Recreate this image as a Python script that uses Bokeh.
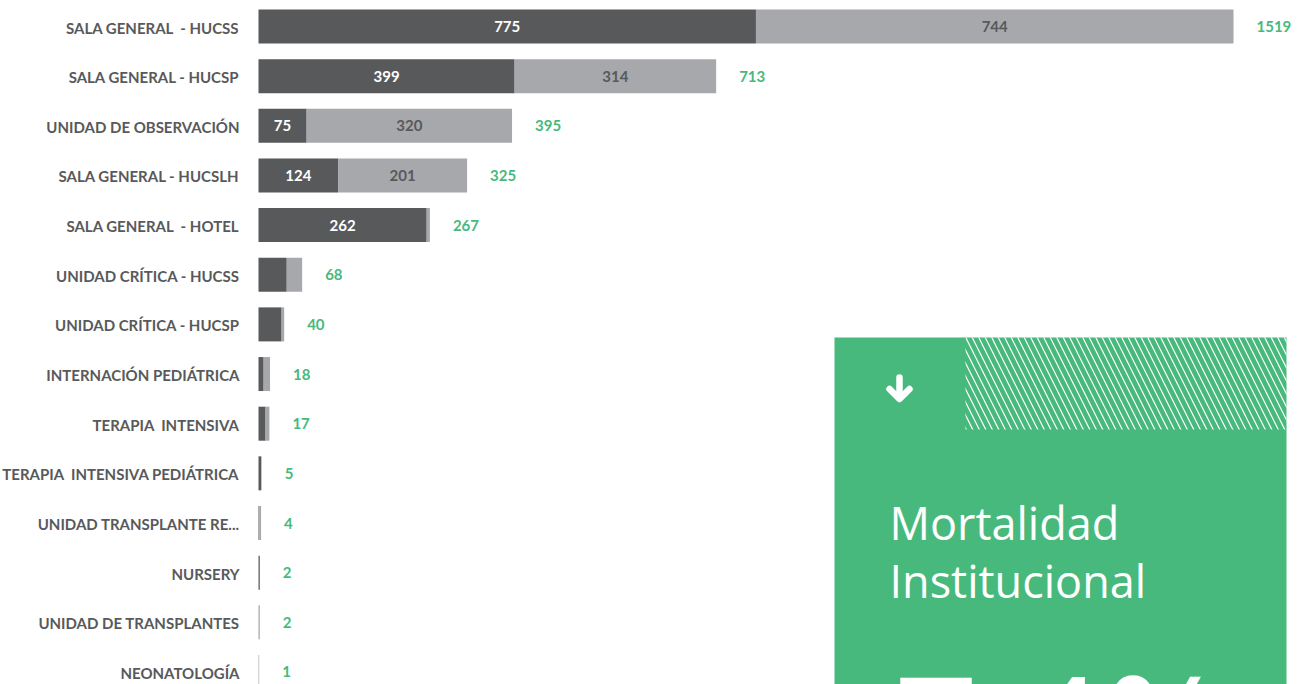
from bokeh.plotting import figure
from bokeh.models import Range1d, ColumnDataSource
from bokeh.core.properties import value
from bokeh.embed import file_html
from bokeh.resources import INLINE

# ---------------- data ----------------
categories = [
    "SALA GENERAL  - HUCSS",
    "SALA GENERAL - HUCSP",
    "UNIDAD DE OBSERVACIÓN",
    "SALA GENERAL - HUCSLH",
    "SALA GENERAL  - HOTEL",
    "UNIDAD CRÍTICA - HUCSS",
    "UNIDAD CRÍTICA - HUCSP",
    "INTERNACIÓN PEDIÁTRICA",
    "TERAPIA  INTENSIVA",
    "TERAPIA  INTENSIVA PEDIÁTRICA",
    "UNIDAD TRANSPLANTE RE...",
    "NURSERY",
    "UNIDAD DE TRANSPLANTES",
    "NEONATOLOGÍA",
]
serie_oscura = [775, 399, 75, 124, 262, 44, 36, 8, 11, 4, 1, 2, 0, 0]
serie_clara = [744, 314, 320, 201, 5, 24, 4, 10, 6, 1, 3, 0, 2, 1]
box_title = ["Mortalidad", "Institucional"]
box_value = "7,4%"

# ---------------- style ----------------
DARK = "#58595b"
LIGHT = "#a7a8ab"
GREEN = "#48b97c"
FONT = "Lato"
CARD_FONT = "Open Sans"

W, H = 1299, 684
X0 = 258.0               # pixel of value 0
PX_PER_UNIT = 975.0 / 1519.0
Y0 = 26.0                # pixel of first row centre
ROW = 49.65              # pixels per row


def dx(px):
    return (px - X0) / PX_PER_UNIT


def dy(py):
    return (py - Y0) / ROW


def keep_spaces(s):
    # keep the double spaces of the original labels visible in SVG
    return s.replace("  ", " \u00a0")


totals = [a + b for a, b in zip(serie_oscura, serie_clara)]
idx = list(range(len(categories)))

p = figure(width=W, height=H,
           x_range=Range1d(dx(0), dx(W)), y_range=Range1d(dy(H), dy(0)),
           output_backend="svg", toolbar_location=None,
           x_axis_type=None, y_axis_type=None, min_border=0)
p.outline_line_color = None
p.background_fill_color = "white"
p.border_fill_color = "white"
for g in p.grid:
    g.visible = False

src = ColumnDataSource(dict(y=idx, cat=[keep_spaces(c) for c in categories],
                            dark=serie_oscura, light=serie_clara, total=totals,
                            total_txt=[str(t) for t in totals]))

BAR_H = 34.0 / ROW
p.hbar(y="y", left=0, right="dark", height=BAR_H, source=src,
       fill_color=DARK, line_color=None)
p.hbar(y="y", left="dark", right="total", height=BAR_H, source=src,
       fill_color=LIGHT, line_color=None)

# category labels
p.text(x=0, y="y", text="cat", source=src, x_offset=-19, y_offset=1,
       text_align="right", text_baseline="middle",
       text_font=value(FONT), text_font_style="bold",
       text_font_size="15px", text_color=DARK)

# inner labels
THRESH = 60
d_lab = dict(x=[], y=[], t=[])
l_lab = dict(x=[], y=[], t=[])
for i, (a, b) in enumerate(zip(serie_oscura, serie_clara)):
    if a >= THRESH:
        d_lab["x"].append(a / 2)
        d_lab["y"].append(i)
        d_lab["t"].append(str(a))
    if b >= THRESH:
        l_lab["x"].append(a + b / 2)
        l_lab["y"].append(i)
        l_lab["t"].append(str(b))
p.text(x="x", y="y", text="t", source=ColumnDataSource(d_lab), y_offset=0,
       text_align="center", text_baseline="middle",
       text_font=value(FONT), text_font_style="bold",
       text_font_size="15px", text_color="white")
p.text(x="x", y="y", text="t", source=ColumnDataSource(l_lab), y_offset=0,
       text_align="center", text_baseline="middle",
       text_font=value(FONT), text_font_style="bold",
       text_font_size="15px", text_color=DARK)

# totals
p.text(x="total", y="y", text="total_txt", source=src, x_offset=23, y_offset=0,
       text_align="left", text_baseline="middle",
       text_font=value(FONT), text_font_style="bold",
       text_font_size="15px", text_color=GREEN)

# ---------------- green card ----------------
p.quad(left=dx(834), right=dx(1286), top=dy(337), bottom=dy(H + 30),
       fill_color=GREEN, line_color=None)
p.quad(left=dx(965), right=dx(1286), top=dy(337), bottom=dy(429),
       fill_alpha=0, line_color=None, hatch_pattern="\\",
       hatch_color="white", hatch_scale=13, hatch_weight=1.2)

# arrow
p.segment(x0=[dx(899)], y0=[dy(377)], x1=[dx(899)], y1=[dy(397)],
          line_color="white", line_width=6.5, line_cap="round")
p.line(x=[dx(889), dx(899), dx(909)], y=[dy(388.5), dy(398.5), dy(388.5)],
       line_color="white", line_width=6.5, line_cap="round", line_join="round")

p.text(x=[dx(889)] * 2, y=[dy(522), dy(580)], text=box_title,
       text_align="left", text_baseline="middle",
       text_font=value(CARD_FONT),
       text_font_size="45px", text_color="white")

p.text(x=[dx(893)], y=[dy(640)], text=[box_value], y_offset=86,
       text_align="left", text_baseline="middle",
       text_font=value(CARD_FONT), text_font_size="150px",
       text_color="white")

open("out.html", "w").write(file_html(p, INLINE))
